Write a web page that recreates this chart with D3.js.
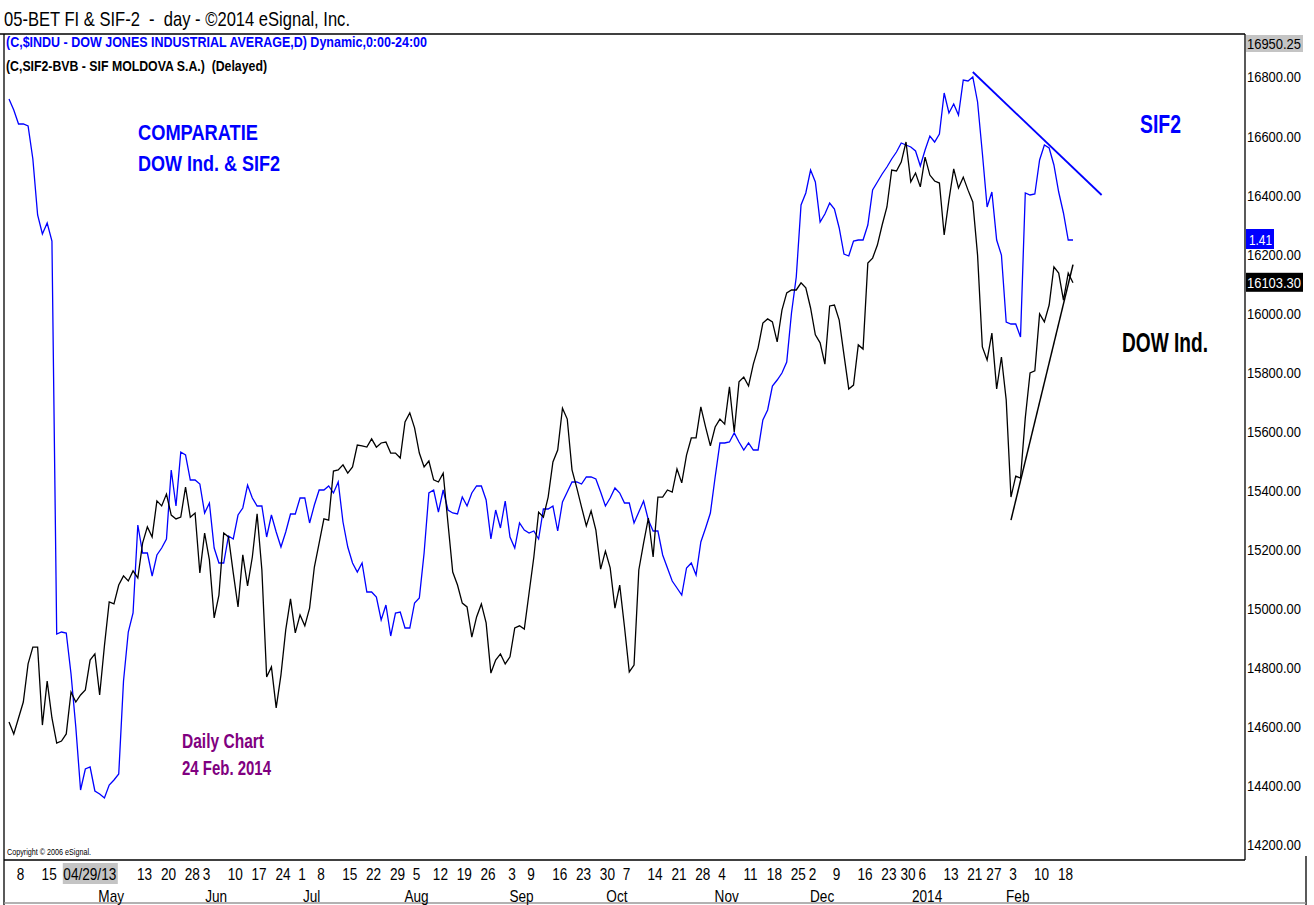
<!DOCTYPE html>
<html>
<head>
<meta charset="utf-8">
<script src="https://cdn.jsdelivr.net/npm/d3@7"></script>
<style>
  body { margin: 0; background: #fff; }
  svg { display: block; }
  text { font-family: "Liberation Sans", Arial, sans-serif; }
</style>
</head>
<body>
<svg id="chart"></svg>
<script>
// Dow Jones Industrial Average, daily close (one value per bar)
let dowClose = [
  14616, 14576, 14630, 14684, 14813, 14870, 14870, 14606, 14755, 14630,
  14545, 14552, 14576, 14718, 14684, 14708, 14725, 14826, 14847, 14708,
  14874, 15023, 15016, 15080, 15111, 15094, 15128, 15104, 15222, 15277,
  15243, 15365, 15348, 15388, 15317, 15304, 15310, 15412, 15310, 15324,
  15121, 15256, 15165, 14969, 15046, 15256, 15243, 15121, 15006, 15182,
  15077, 15175, 15321, 15131, 14769, 14803, 14664, 14776, 14928, 15033,
  14918, 14979, 14942, 15002, 15141, 15222, 15304, 15300, 15466, 15470,
  15487, 15459, 15480, 15554, 15551, 15547, 15575, 15547, 15561, 15564,
  15527, 15527, 15510, 15632, 15663, 15612, 15527, 15480, 15500, 15436,
  15429, 15459, 15290, 15124, 15080, 15019, 15006, 14904, 14972, 15016,
  14952, 14782, 14826, 14847, 14813, 14837, 14935, 14942, 14931, 15053,
  15175, 15327, 15310, 15378, 15497, 15537, 15679, 15642, 15470, 15409,
  15344, 15280, 15331, 15266, 15134, 15195, 15138, 15002, 15080, 14938,
  14786, 14809, 15131, 15222, 15307, 15175, 15378, 15378, 15402, 15395,
  15473, 15426, 15520, 15578, 15578, 15683, 15615, 15551, 15615, 15642,
  15625, 15751, 15598, 15768, 15784, 15754, 15828, 15883, 15967, 15981,
  15971, 15903, 16011, 16069, 16079, 16079, 16103, 16086, 16018, 15927,
  15900, 15828, 16025, 16028, 15977, 15859, 15744, 15757, 15893, 15879,
  16170, 16187, 16231, 16299, 16360, 16485, 16482, 16512, 16580, 16445,
  16475, 16428, 16529, 16468, 16448, 16441, 16265, 16384, 16489, 16424,
  16461, 16417, 16377, 16197, 15886, 15842, 15933, 15744, 15852, 15707,
  15378, 15449, 15442, 15646, 15798, 15805, 15998, 15971, 16028, 16157,
  16136, 16045, 16136, 16103.3
];

// SIF2 (SIF Moldova) daily close, overlaid on its own scale
let sifClose = [
  1.551, 1.540, 1.526, 1.526, 1.524, 1.491, 1.435, 1.416, 1.427, 1.409,
  1.016, 1.018, 1.017, 0.976, 0.923, 0.860, 0.881, 0.883, 0.859, 0.856,
  0.852, 0.865, 0.870, 0.876, 0.969, 1.018, 1.037, 1.125, 1.097, 1.097,
  1.074, 1.095, 1.102, 1.111, 1.180, 1.144, 1.198, 1.195, 1.170, 1.170,
  1.166, 1.137, 1.147, 1.102, 1.087, 1.087, 1.114, 1.111, 1.135, 1.142,
  1.165, 1.152, 1.144, 1.144, 1.113, 1.135, 1.118, 1.103, 1.118, 1.136,
  1.136, 1.152, 1.152, 1.127, 1.145, 1.160, 1.160, 1.164, 1.157, 1.168,
  1.128, 1.103, 1.087, 1.078, 1.087, 1.058, 1.058, 1.053, 1.030, 1.045,
  1.014, 1.037, 1.038, 1.022, 1.022, 1.047, 1.052, 1.097, 1.157, 1.160,
  1.138, 1.160, 1.140, 1.137, 1.136, 1.153, 1.144, 1.157, 1.164, 1.164,
  1.150, 1.111, 1.140, 1.122, 1.149, 1.113, 1.102, 1.127, 1.120, 1.117,
  1.119, 1.111, 1.141, 1.141, 1.144, 1.119, 1.148, 1.158, 1.168, 1.168,
  1.166, 1.173, 1.173, 1.171, 1.158, 1.144, 1.152, 1.162, 1.157, 1.147,
  1.147, 1.127, 1.138, 1.149, 1.130, 1.119, 1.119, 1.095, 1.082, 1.069,
  1.062, 1.055, 1.082, 1.087, 1.075, 1.108, 1.122, 1.137, 1.173, 1.207,
  1.207, 1.208, 1.217, 1.208, 1.200, 1.207, 1.200, 1.200, 1.230, 1.240,
  1.264, 1.270, 1.277, 1.288, 1.337, 1.373, 1.445, 1.457, 1.480, 1.468,
  1.428, 1.436, 1.447, 1.441, 1.422, 1.396, 1.394, 1.409, 1.410, 1.410,
  1.425, 1.460, 1.468, 1.476, 1.483, 1.491, 1.498, 1.507, 1.505, 1.503,
  1.499, 1.484, 1.500, 1.514, 1.508, 1.516, 1.557, 1.537, 1.546, 1.535,
  1.570, 1.569, 1.573, 1.548, 1.497, 1.443, 1.458, 1.410, 1.395, 1.328,
  1.326, 1.326, 1.313, 1.457, 1.455, 1.456, 1.490, 1.505, 1.502, 1.485,
  1.458, 1.437, 1.410, 1.410
];

// hand drawn trend lines (bar index, value)
let sifTrendIdx = [202, 229];
let sifTrendVal = [1.578, 1.455];
let dowTrendIdx = [210, 223];
let dowTrendVal = [15300, 16165];

// bottom axis labels
let dayLabels = ["8", "15", "13", "20", "28", "3", "10", "17", "24", "1", "8", "15", "22", "29",
  "5", "12", "19", "26", "3", "9", "16", "23", "30", "7", "14", "21", "28", "4", "11", "18", "25",
  "2", "9", "16", "23", "30", "6", "13", "21", "27", "3", "10", "18"];
let dayIdx = [2, 8, 28, 33, 38, 41, 47, 52, 57, 61, 65, 71, 76, 81,
  85, 90, 95, 100, 105, 109, 115, 120, 125, 129, 135, 140, 145, 149, 155, 160, 165,
  168, 173, 179, 184, 188, 191, 197, 202, 206, 210, 216, 221];
let monthLabels = ["May", "Jun", "Jul", "Aug", "Sep", "Oct", "Nov", "Dec", "2014", "Feb"];
let monthIdx = [21, 43, 63, 85, 107, 127, 150, 170, 192, 211];
let cursorLabel = "04/29/13";
let cursorIdx = 14;

let priceTicks = [14200, 14400, 14600, 14800, 15000, 15200, 15400, 15600, 15800, 16000,
  16200, 16400, 16600, 16800];
let scaleTopLabel = "16950.25";

let width = 1314;
let height = 905;
let plotLeft = 4, plotTop = 34, plotRight = 1245, plotBottom = 860;

let blue = "#0000ff";
let xScale, dowScale, sifScale;
let svg = d3.select("#chart");

// narrow the Arial-like font to the look of Arial Narrow
function squeeze(sel, ratio) {
  sel.each(function () {
    let w = this.getComputedTextLength();
    d3.select(this).attr("textLength", w * ratio).attr("lengthAdjust", "spacingAndGlyphs");
  });
}

function label(x, y, size, bold, color, txt, len) {
  return svg.append("text")
    .attr("x", x).attr("y", y)
    .attr("font-size", size)
    .attr("font-weight", bold ? "bold" : "normal")
    .attr("fill", color)
    .attr("textLength", len).attr("lengthAdjust", "spacingAndGlyphs")
    .style("white-space", "pre")
    .text(txt);
}

function drawCanvas() {
  svg.attr("width", width).attr("height", height);
  svg.append("rect").attr("width", width).attr("height", height).attr("fill", "#fff");
}

function generateScales() {
  xScale = d3.scaleLinear().domain([0, dowClose.length - 1]).range([9, 1073]);
  dowScale = d3.scaleLinear().domain([14149.2, 16945.6]).range([plotBottom, plotTop]);
  sifScale = d3.scaleLinear().domain([0.79, 1.616]).range([plotBottom, plotTop]);
}

function drawFrame() {
  let g = svg.append("g").attr("stroke", "#000").attr("stroke-width", 1.3).attr("fill", "none");
  g.append("line").attr("x1", 0).attr("x2", plotRight).attr("y1", plotTop).attr("y2", plotTop);
  g.append("line").attr("x1", plotLeft).attr("x2", plotLeft).attr("y1", plotTop).attr("y2", height);
  g.append("line").attr("x1", plotLeft).attr("x2", plotRight).attr("y1", plotBottom).attr("y2", plotBottom);
  g.append("line").attr("x1", plotRight).attr("x2", plotRight).attr("y1", plotTop).attr("y2", plotBottom);
  g.append("line").attr("x1", 1306).attr("x2", 1306).attr("y1", plotBottom - 4).attr("y2", height);
  g.append("line").attr("x1", plotLeft).attr("x2", 1306).attr("y1", height - 2).attr("y2", height - 2)
    .attr("stroke", "#999");
}

function drawLines() {
  let dowLine = d3.line().x((d, i) => xScale(i)).y((d) => dowScale(d));
  let sifLine = d3.line().x((d, i) => xScale(i)).y((d) => sifScale(d));

  svg.append("path").datum(sifClose).attr("d", sifLine)
    .attr("fill", "none").attr("stroke", blue).attr("stroke-width", 1.3);
  svg.append("path").datum(dowClose).attr("d", dowLine)
    .attr("fill", "none").attr("stroke", "#000").attr("stroke-width", 1.3);

  svg.append("line")
    .attr("x1", xScale(sifTrendIdx[0])).attr("y1", sifScale(sifTrendVal[0]))
    .attr("x2", xScale(sifTrendIdx[1])).attr("y2", sifScale(sifTrendVal[1]))
    .attr("stroke", blue).attr("stroke-width", 1.8);
  svg.append("line")
    .attr("x1", xScale(dowTrendIdx[0])).attr("y1", dowScale(dowTrendVal[0]))
    .attr("x2", xScale(dowTrendIdx[1])).attr("y2", dowScale(dowTrendVal[1]))
    .attr("stroke", "#000").attr("stroke-width", 1.5);
}

function drawAxis() {
  let yAxis = d3.axisRight(dowScale).tickValues(priceTicks).tickSize(0).tickPadding(0)
    .tickFormat(d3.format(".2f"));
  let ya = svg.append("g").attr("transform", "translate(" + (plotRight + 2) + ",0)").call(yAxis);
  ya.select(".domain").remove();
  ya.selectAll("text").attr("font-size", 15.5).attr("font-family", null).attr("fill", "#000")
    .attr("textLength", 54).attr("lengthAdjust", "spacingAndGlyphs");

  // top of scale value
  svg.append("rect").attr("x", plotRight + 1).attr("y", 35).attr("width", 57).attr("height", 17).attr("fill", "#c4c4c4");
  label(plotRight + 2, 49, 15.5, false, "#000", scaleTopLabel, 54);

  // last value flags
  let lastSif = sifClose[sifClose.length - 1];
  let lastDow = dowClose[dowClose.length - 1];
  svg.append("rect").attr("x", plotRight + 1).attr("y", sifScale(lastSif) - 11).attr("width", 28).attr("height", 20).attr("fill", blue);
  label(plotRight + 4, sifScale(lastSif) + 5, 15.5, false, "#fff", d3.format(".2f")(lastSif), 23);
  svg.append("rect").attr("x", plotRight + 1).attr("y", dowScale(lastDow) - 10).attr("width", 57).attr("height", 19).attr("fill", "#000");
  label(plotRight + 2, dowScale(lastDow) + 5, 15.5, false, "#fff", d3.format(".2f")(lastDow), 54);

  // date strip
  let xa = svg.append("g");
  xa.selectAll(".day").data(dayLabels).enter().append("text")
    .attr("class", "day")
    .attr("x", (d, i) => xScale(dayIdx[i]) + 2)
    .attr("y", 880)
    .attr("text-anchor", "middle")
    .attr("font-size", 17)
    .text((d) => d)
    .call(squeeze, 0.8);
  xa.append("rect").attr("x", xScale(cursorIdx) - 13).attr("y", 863).attr("width", 55).attr("height", 21).attr("fill", "#c4c4c4");
  xa.append("text").attr("x", xScale(cursorIdx) + 14).attr("y", 880).attr("text-anchor", "middle")
    .attr("font-size", 17).text(cursorLabel).call(squeeze, 0.8);
  xa.selectAll(".month").data(monthLabels).enter().append("text")
    .attr("class", "month")
    .attr("x", (d, i) => xScale(monthIdx[i]) + 2)
    .attr("y", 902)
    .attr("text-anchor", "middle")
    .attr("font-size", 17)
    .text((d) => d)
    .call(squeeze, 0.8);
}

function drawLabels() {
  label(4, 26, 21, false, "#000", "05-BET FI & SIF-2  -  day - \u00a92014 eSignal, Inc.", 346);
  label(6, 47, 15, true, blue, "(C,$INDU - DOW JONES INDUSTRIAL AVERAGE,D) Dynamic,0:00-24:00", 421);
  label(6, 71, 15, true, "#000", "(C,SIF2-BVB - SIF MOLDOVA S.A.)  (Delayed)", 261);

  label(138, 140, 22, true, blue, "COMPARATIE", 120);
  label(138, 171, 22, true, blue, "DOW Ind. & SIF2", 142);
  label(1140, 133, 25, true, blue, "SIF2", 41);
  label(1122, 352, 27, true, "#000", "DOW Ind.", 86);
  label(182, 748, 21, true, "#800080", "Daily Chart", 82);
  label(182, 775, 21, true, "#800080", "24 Feb. 2014", 89);
  label(7, 855, 9, false, "#000", "Copyright \u00a9 2006 eSignal.", 84);
}

drawCanvas();
generateScales();
drawFrame();
drawLines();
drawAxis();
drawLabels();
</script>
</body>
</html>
